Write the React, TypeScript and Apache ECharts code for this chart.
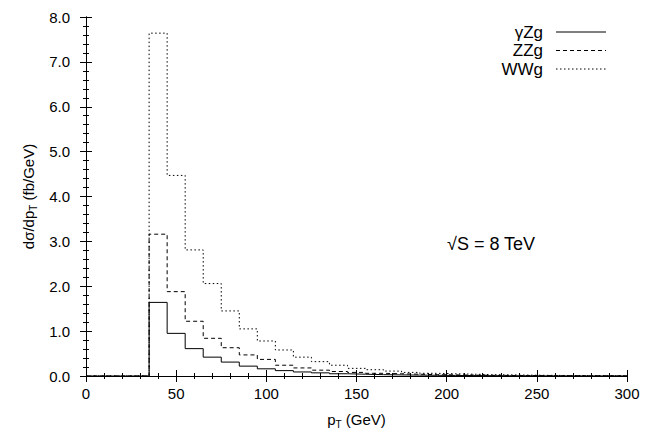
import React, { useEffect, useRef } from "react";
import * as echarts from "echarts";

// bin lower edges (GeV), bin width 10
const binStarts = [35, 45, 55, 65, 75, 85, 95, 105, 115, 125, 135, 145, 155, 165, 175, 185, 195, 205, 215, 225, 235, 245, 255, 265, 275, 285, 295];
const gammaZg = [1.64, 0.95, 0.61, 0.42, 0.31, 0.22, 0.16, 0.12, 0.09, 0.07, 0.05, 0.04, 0.03, 0.025, 0.02, 0.015, 0.012, 0.01, 0.008, 0.006, 0.005, 0.004, 0.003, 0.002, 0.002, 0.001, 0.001];
const zzg = [3.16, 1.88, 1.22, 0.84, 0.63, 0.47, 0.37, 0.24, 0.18, 0.13, 0.10, 0.08, 0.06, 0.05, 0.04, 0.03, 0.025, 0.02, 0.015, 0.012, 0.01, 0.008, 0.006, 0.005, 0.004, 0.003, 0.002];
const wwg = [7.64, 4.47, 2.81, 2.06, 1.45, 1.05, 0.78, 0.58, 0.42, 0.32, 0.24, 0.17, 0.14, 0.11, 0.08, 0.06, 0.05, 0.04, 0.03, 0.025, 0.02, 0.015, 0.012, 0.01, 0.008, 0.006, 0.005];
const seriesNames = ["γZg", "ZZg", "WWg"];
const xTicks = { min: 0, max: 300, interval: 50 };
const yTicks = { min: 0, max: 8, interval: 1 };

const FONT = "'Liberation Sans', Arial, Helvetica, sans-serif";

function histData(values: number[]) {
  const pts: [number, number][] = [[0, 0]];
  binStarts.forEach((x, i) => pts.push([x, values[i]]));
  pts.push([300, values[values.length - 1]]);
  return pts;
}

export default function App() {
  const ref = useRef<HTMLDivElement>(null);
  useEffect(() => {
    if (!ref.current) return;
    const chart = echarts.init(ref.current, undefined, { renderer: "svg" });
    const axisCommon = {
      axisLine: { show: true, lineStyle: { color: "#000", width: 1 } },
      axisTick: { show: true, inside: true, length: 6, lineStyle: { color: "#000" } },
      minorTick: { show: true, splitNumber: 5, length: 3, lineStyle: { color: "#000" } },
      splitLine: { show: false },
      minorSplitLine: { show: false },
    };
    const richName = {
      a: { fontSize: 15, fontFamily: FONT, color: "#000", lineHeight: 20 },
      sub: { fontSize: 10, fontFamily: FONT, color: "#000", verticalAlign: "bottom", lineHeight: 12 },
    };
    const styles: any[] = [
      { type: "solid", width: 1 },
      { type: [4, 3], width: 1 },
      { type: [1.5, 2.5], width: 1 },
    ];
    const legendY = [32, 50.5, 69];
    const legendGraphics: any[] = [];
    seriesNames.forEach((n, i) => {
      legendGraphics.push({
        type: "text",
        x: 543,
        y: legendY[i],
        style: { text: n, fontSize: 17, fontFamily: FONT, fill: "#000", align: "right", verticalAlign: "middle" },
      });
      legendGraphics.push({
        type: "line",
        shape: { x1: 556, y1: legendY[i], x2: 606, y2: legendY[i] },
        style: { stroke: "#000", lineWidth: 1, lineDash: i === 0 ? null : styles[i].type },
      });
    });
    chart.setOption({
      animation: false,
      backgroundColor: "#fff",
      grid: { left: 86, right: 34, top: 17, bottom: 54 },
      xAxis: [
        {
          type: "value",
          ...xTicks,
          position: "bottom",
          ...axisCommon,
          axisLabel: { fontSize: 15, fontFamily: FONT, color: "#000", margin: 10 },
          name: "{a|p}{sub|T}{a| (GeV)}",
          nameLocation: "middle",
          nameGap: 33,
          nameTextStyle: { rich: richName },
        },
        {
          type: "value",
          ...xTicks,
          position: "top",
          ...axisCommon,
          axisLabel: { show: false },
        },
      ],
      yAxis: [
        {
          type: "value",
          ...yTicks,
          position: "left",
          ...axisCommon,
          axisLabel: {
            fontSize: 15,
            fontFamily: FONT,
            color: "#000",
            margin: 16,
            formatter: (v: number) => v.toFixed(1),
          },
          name: "{a|dσ/dp}{sub|T}{a| (fb/GeV)}",
          nameLocation: "middle",
          nameRotate: 90,
          nameGap: 48,
          nameTextStyle: { rich: richName },
        },
        {
          type: "value",
          ...yTicks,
          position: "right",
          ...axisCommon,
          axisLabel: { show: false },
        },
      ],
      series: [gammaZg, zzg, wwg].map((vals, i) => ({
        name: seriesNames[i],
        type: "line",
        step: "end",
        symbol: "none",
        data: histData(vals),
        lineStyle: { color: "#000", ...styles[i] },
        clip: true,
      })),
      graphic: [
        ...legendGraphics,
        {
          type: "text",
          x: 447,
          y: 244,
          style: { text: "√S = 8 TeV", fontSize: 18, fontFamily: FONT, fill: "#000", align: "left", verticalAlign: "middle" },
        },
      ],
    });
    return () => chart.dispose();
  }, []);
  return <div ref={ref} style={{ position: "fixed", left: 0, top: 0, width: 661, height: 434 }} />;
}
